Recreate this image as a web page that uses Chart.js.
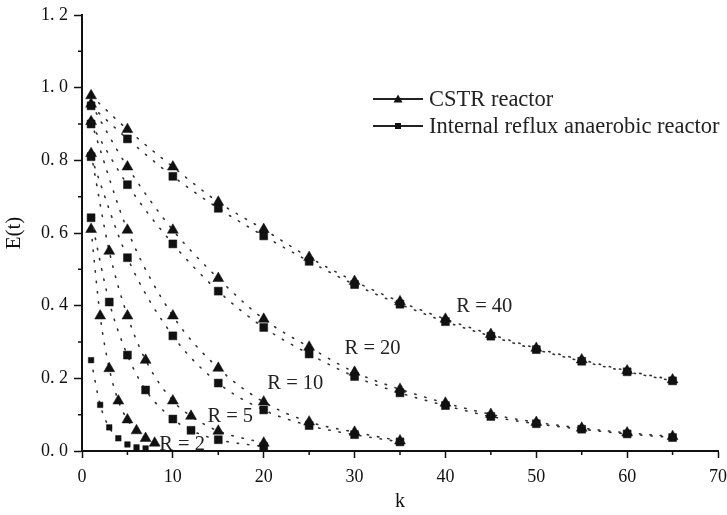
<!DOCTYPE html>
<html>
<head>
<meta charset="utf-8">
<script src="https://cdn.jsdelivr.net/npm/chart.js@4.4.0/dist/chart.umd.min.js"></script>
<style>
  html, body { margin: 0; padding: 0; background: #fff; }
  #chart { display: block; }
</style>
</head>
<body>
<canvas id="chart" width="727" height="515"></canvas>
<script>
// ─── Data ─────────────────────────────────────────────────────────────────────

const kR40 = [1, 5, 10, 15, 20, 25, 30, 35, 40, 45, 50, 55, 60, 65];
const cstrR40 = [0.978, 0.885, 0.782, 0.685, 0.610, 0.533, 0.467, 0.411, 0.363, 0.321, 0.283, 0.251, 0.221, 0.196];
const irarR40 = [0.950, 0.859, 0.756, 0.668, 0.592, 0.522, 0.458, 0.404, 0.356, 0.316, 0.279, 0.247, 0.218, 0.193];

const kR20 = [1, 5, 10, 15, 20, 25, 30, 35, 40, 45, 50, 55, 60, 65];
const cstrR20 = [0.955, 0.782, 0.608, 0.475, 0.363, 0.286, 0.217, 0.170, 0.132, 0.101, 0.079, 0.063, 0.050, 0.040];
const irarR20 = [0.900, 0.733, 0.570, 0.440, 0.340, 0.267, 0.205, 0.160, 0.125, 0.095, 0.075, 0.060, 0.047, 0.037];

const kR10 = [1, 5, 10, 15, 20, 25, 30, 35];
const cstrR10 = [0.907, 0.608, 0.372, 0.228, 0.135, 0.080, 0.052, 0.028];
const irarR10 = [0.810, 0.532, 0.317, 0.187, 0.113, 0.070, 0.045, 0.025];

const kR5 = [1, 3, 5, 7, 10, 12, 15, 20];
const cstrR5 = [0.819, 0.550, 0.372, 0.250, 0.138, 0.096, 0.055, 0.022];
const irarR5 = [0.642, 0.410, 0.264, 0.168, 0.088, 0.057, 0.031, 0.012];

const kR2cstr = [1, 2, 3, 4, 5, 6, 7, 8];
const cstrR2 = [0.610, 0.372, 0.227, 0.138, 0.086, 0.056, 0.035, 0.022];
const kR2irar = [1, 2, 3, 4, 5, 6, 7];
const irarR2 = [0.250, 0.127, 0.065, 0.035, 0.018, 0.010, 0.007];

const xTicks = [0, 10, 20, 30, 40, 50, 60, 70];
const xMinor = [5, 15, 25, 35, 45, 55, 65];
const yTicks = [0, 0.2, 0.4, 0.6, 0.8, 1.0, 1.2];
const yMinor = [0.1, 0.3, 0.5, 0.7, 0.9, 1.1];

const curveLabels = ['R = 40', 'R = 20', 'R = 10', 'R = 5', 'R = 2'];
const curveLabelK = [41.2, 28.9, 20.4, 13.8, 8.5];
const curveLabelE = [0.397, 0.283, 0.186, 0.094, 0.018];

const legendLabels = ['CSTR reactor', 'Internal reflux anaerobic reactor'];

// ─── Helpers ──────────────────────────────────────────────────────────────────

const FONT = "'Liberation Serif', 'DejaVu Serif', serif";
const INK = '#111';

function series(ks, vals, style, radius) {
  return {
    data: ks.map((k, i) => ({ x: k, y: vals[i] })),
    showLine: true,
    borderColor: '#333',
    borderWidth: 1.6,
    borderDash: [1.4, 9],
    borderCapStyle: 'round',
    cubicInterpolationMode: 'monotone',
    pointStyle: style,
    pointRadius: radius,
    pointHoverRadius: radius,
    pointBackgroundColor: INK,
    pointBorderColor: INK,
    pointBorderWidth: 0.5,
    clip: false,
  };
}

const TRI = 6.3;
const SQ = 5.6;

const datasets = [
  series(kR40, cstrR40, 'triangle', TRI), series(kR40, irarR40, 'rect', SQ),
  series(kR20, cstrR20, 'triangle', TRI), series(kR20, irarR20, 'rect', SQ),
  series(kR10, cstrR10, 'triangle', TRI), series(kR10, irarR10, 'rect', SQ),
  series(kR5, cstrR5, 'triangle', TRI), series(kR5, irarR5, 'rect', SQ),
  series(kR2cstr, cstrR2, 'triangle', TRI), series(kR2irar, irarR2, 'rect', 3.9),
];

// ─── Plugins ──────────────────────────────────────────────────────────────────

const extras = {
  id: 'extras',
  afterDraw(chart) {
    const { ctx, scales: { x, y } } = chart;
    ctx.save();

    // minor ticks
    ctx.strokeStyle = INK;
    ctx.lineWidth = 1.5;
    ctx.beginPath();
    xMinor.forEach(v => {
      const px = x.getPixelForValue(v);
      ctx.moveTo(px, y.bottom);
      ctx.lineTo(px, y.bottom + 4);
    });
    yMinor.forEach(v => {
      const py = y.getPixelForValue(v);
      ctx.moveTo(x.left, py);
      ctx.lineTo(x.left - 4, py);
    });
    ctx.stroke();

    // curve labels
    ctx.fillStyle = '#222';
    ctx.font = `20.5px ${FONT}`;
    ctx.textAlign = 'left';
    ctx.textBaseline = 'middle';
    curveLabels.forEach((t, i) => {
      ctx.fillText(t, x.getPixelForValue(curveLabelK[i]), y.getPixelForValue(curveLabelE[i]));
    });

    // legend
    const rows = [99, 126];
    ctx.font = `22.5px ${FONT}`;
    legendLabels.forEach((t, i) => {
      const ly = rows[i];
      ctx.strokeStyle = '#222';
      ctx.lineWidth = 2;
      ctx.beginPath();
      ctx.moveTo(373, ly);
      ctx.lineTo(423, ly);
      ctx.stroke();
      ctx.fillStyle = INK;
      ctx.beginPath();
      if (i === 0) {
        ctx.moveTo(398, ly - 4.5);
        ctx.lineTo(402.5, ly + 3.5);
        ctx.lineTo(393.5, ly + 3.5);
        ctx.closePath();
      } else {
        ctx.rect(395, ly - 3, 6, 6);
      }
      ctx.fill();
      ctx.fillStyle = '#222';
      ctx.fillText(t, 429, ly + 1);
    });

    ctx.restore();
  },
};

// ─── Chart ────────────────────────────────────────────────────────────────────

Chart.defaults.font.family = FONT;
Chart.defaults.color = INK;

new Chart(document.getElementById('chart'), {
  type: 'scatter',
  data: { datasets },
  options: {
    responsive: false,
    animation: false,
    events: [],
    layout: { padding: { top: 15, right: 9, left: 0, bottom: 0 } },
    plugins: { legend: { display: false }, tooltip: { enabled: false } },
    scales: {
      x: {
        type: 'linear',
        min: 0,
        max: 70,
        afterBuildTicks: s => { s.ticks = xTicks.map(v => ({ value: v })); },
        afterFit: s => { s.height = 64; s.paddingLeft = 0; s.paddingRight = 0; },
        ticks: { font: { size: 18 }, color: INK, padding: 8 },
        grid: { drawOnChartArea: false, tickLength: 7, tickWidth: 1.5, tickColor: INK },
        border: { display: true, color: INK, width: 2 },
        title: { display: true, text: 'k', font: { size: 20 }, color: INK, padding: { top: 0, bottom: 1 } },
      },
      y: {
        type: 'linear',
        min: 0,
        max: 1.2,
        afterBuildTicks: s => { s.ticks = yTicks.map(v => ({ value: v })); },
        afterFit: s => { s.width = 82; s.paddingTop = 0; s.paddingBottom = 0; },
        ticks: {
          font: { size: 18 },
          color: INK,
          padding: 6,
          callback: v => v.toFixed(1).replace('.', '. '),
        },
        grid: { drawOnChartArea: false, tickLength: 8, tickWidth: 1.5, tickColor: INK },
        border: { display: true, color: INK, width: 2 },
        title: { display: true, text: 'E(t)', font: { size: 21 }, color: INK, padding: { top: 2, bottom: 0 } },
      },
    },
  },
  plugins: [extras],
});
</script>
</body>
</html>
